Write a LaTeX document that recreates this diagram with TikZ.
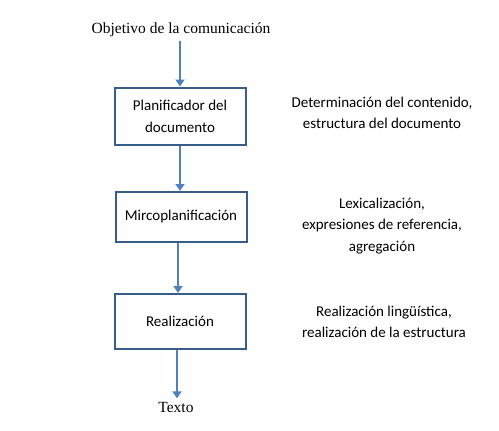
\documentclass[tikz,border=0pt]{standalone}
\usepackage{fontspec}
\setmainfont{Carlito}
\newfontfamily\serifx{Liberation Serif}
\usetikzlibrary{arrows.meta}
\definecolor{arrowblue}{HTML}{4F81BD}
\definecolor{boxblue}{HTML}{385D8A}
\tikzset{
  x=1pt,y=-1pt,
  procbox/.style={draw=boxblue, line width=2pt, minimum width=131pt, inner sep=0pt, align=center, font=\fontsize{15}{22}\selectfont},
  sidetext/.style={align=center, font=\fontsize{15}{21.5}\selectfont},
  serif/.style={font=\serifx\fontsize{15.5}{18}\selectfont},
  flow/.style={draw=arrowblue, line width=2.2pt, -{Triangle[width=9pt,length=7pt]}}
}
\begin{document}
\begin{tikzpicture}
\useasboundingbox (0,0) rectangle (499,431);
\node[serif] (obj) at (181,30) {Objetivo de la comunicación};
\node[procbox, minimum height=57pt] (p1) at (180,116) {Planificador del\\documento};
\node[procbox, minimum height=50pt] (p2) at (181,217) {Mircoplanificación};
\node[procbox, minimum height=55pt] (p3) at (180,321.5) {Realización};
\node[serif] (txt) at (176,407) {Texto};
\node[sidetext] (s1) at (382,113) {Determinación del contenido,\\estructura del documento};
\node[sidetext] (s2) at (382,226) {Lexicalización,\\expresiones de referencia,\\agregación};
\node[sidetext] (s3) at (384,322) {Realización lingüística,\\realización de la estructura};
\draw[flow] (obj.south -| 180,0) -- (p1.north -| 180,0);
\draw[flow] (p1.south -| 180,0) -- (p2.north -| 180,0);
\draw[flow] (p2.south -| 178,0) -- (p3.north -| 178,0);
\draw[flow] (p3.south -| 177,0) -- (txt.north -| 177,0);
\end{tikzpicture}
\end{document}
